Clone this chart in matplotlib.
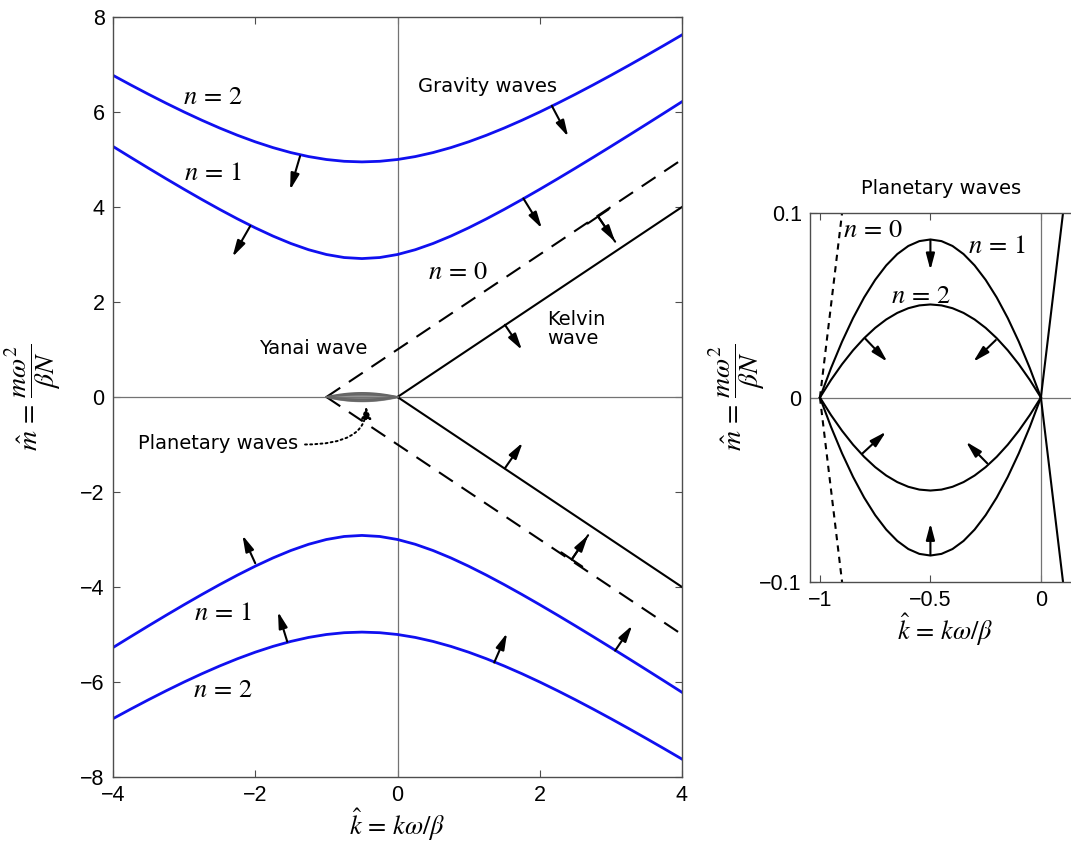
import numpy as np
import matplotlib
matplotlib.use("Agg")
import matplotlib.pyplot as plt

plt.rcParams['mathtext.fontset'] = 'stix'
plt.rcParams['font.family'] = ['DejaVu Sans']

# gravity wave branches (upper half; lower half is the mirror image)
k_grav = [-4, -3.75, -3.5, -3.25, -3, -2.75, -2.5, -2.25, -2, -1.75, -1.5, -1.25, -1, -0.75, -0.5,
          -0.25, 0, 0.25, 0.5, 0.75, 1, 1.25, 1.5, 1.75, 2, 2.25, 2.5, 2.75, 3, 3.25, 3.5, 3.75, 4]
m_grav_n1 = [5.2749, 5.0444, 4.8166, 4.5923, 4.3723, 4.1576, 3.9495, 3.75, 3.5616, 3.3875, 3.2321,
             3.1008, 3.0, 2.9361, 2.9142, 2.9361, 3.0, 3.1008, 3.2321, 3.3875, 3.5616, 3.75, 3.9495,
             4.1576, 4.3723, 4.5923, 4.8166, 5.0444, 5.2749, 5.5078, 5.7426, 5.9791, 6.2170]
m_grav_n2 = [6.7720, 6.5697, 6.3730, 6.1828, 6.0, 5.8261, 5.6623, 5.5104, 5.3723, 5.25, 5.1458,
             5.0617, 5.0, 4.9622, 4.9495, 4.9622, 5.0, 5.0617, 5.1458, 5.25, 5.3723, 5.5104, 5.6623,
             5.8261, 6.0, 6.1828, 6.3730, 6.5697, 6.7720, 6.9791, 7.1904, 7.4053, 7.6235]

# Yanai (n=0) and Kelvin lines
k_yanai = [-1, 4]
m_yanai = [0, 5]
k_kelvin = [0, 4]
m_kelvin = [0, 4]

# planetary (Rossby) branches
k_plan = [-1, -0.95, -0.9, -0.85, -0.8, -0.75, -0.7, -0.65, -0.6, -0.55, -0.5,
          -0.45, -0.4, -0.35, -0.3, -0.25, -0.2, -0.15, -0.1, -0.05, 0]
m_plan_n1 = [0, 0.01592, 0.03031, 0.04312, 0.05432, 0.06386, 0.07171, 0.07786, 0.08226, 0.08490, 0.08579,
             0.08490, 0.08226, 0.07786, 0.07171, 0.06386, 0.05432, 0.04312, 0.03031, 0.01592, 0]
m_plan_n2 = [0, 0.00952, 0.01806, 0.02563, 0.03221, 0.03779, 0.04236, 0.04592, 0.04847, 0.05000, 0.05051,
             0.05000, 0.04847, 0.04592, 0.04236, 0.03779, 0.03221, 0.02563, 0.01806, 0.00952, 0]

# group velocity arrows: (tail, head, has_bar)
arrows_left = [
    ((-1.37, 5.07), (-1.51, 4.36), False),
    ((-2.07, 3.60), (-2.32, 2.95), False),
    ((2.17, 6.13), (2.40, 5.48), False),
    ((1.77, 4.18), (2.03, 3.55), False),
    ((2.82, 3.80), (3.06, 3.27), True),
    ((1.51, 1.52), (1.75, 0.99), False),
    ((1.51, -1.50), (1.76, -0.96), False),
    ((2.45, -3.42), (2.68, -2.91), True),
    ((3.06, -5.34), (3.30, -4.81), False),
    ((1.36, -5.59), (1.54, -4.97), False),
    ((-2.00, -3.50), (-2.18, -2.91), False),
    ((-1.55, -5.15), (-1.68, -4.52), False),
]
arrows_right = [
    ((-0.5, 0.0855), (-0.5, 0.0692)),
    ((-0.796, 0.0321), (-0.695, 0.0194)),
    ((-0.204, 0.0312), (-0.306, 0.0194)),
    ((-0.807, -0.0303), (-0.701, -0.0186)),
    ((-0.243, -0.0357), (-0.339, -0.0240)),
    ((-0.5, -0.0855), (-0.5, -0.0683)),
]

blue = '#1010f0'
W, H = 1071, 843
fig = plt.figure(figsize=(W / 100, H / 100), dpi=100)
ax1 = fig.add_axes([113 / W, 1 - 777 / H, 569 / W, 760 / H])
ax2 = fig.add_axes([810 / W, 1 - 581.7 / H, 270 / W, 368.4 / H])


def style(ax):
    ax.tick_params(direction='in', top=True, right=True, length=5, width=0.8,
                   labelsize=15.5, color='0.3', pad=6)
    for s in ax.spines.values():
        s.set_color('0.3')
        s.set_linewidth(1.0)
    for lab in ax.get_xticklabels() + ax.get_yticklabels():
        lab.set_family('Liberation Sans')


def arrow(ax, tail, head, bar=False, ms=13):
    ax.annotate('', xy=head, xytext=tail,
                arrowprops=dict(arrowstyle='-|>,head_length=0.75,head_width=0.2',
                                lw=1.5, color='k', shrinkA=0, shrinkB=0,
                                mutation_scale=ms))
    if bar:
        ax.annotate('', xy=head, xytext=tail,
                    arrowprops=dict(arrowstyle=']-,widthA=0.7,lengthA=0',
                                    lw=1.5, color='k', shrinkA=0, shrinkB=0,
                                    mutation_scale=ms))


# ---- left panel
ax1.axhline(0, color='0.45', lw=0.9)
ax1.axvline(0, color='0.45', lw=0.9)
ax1.plot(k_grav, m_grav_n1, color=blue, lw=2)
ax1.plot(k_grav, m_grav_n2, color=blue, lw=2)
ax1.plot(k_grav, -np.array(m_grav_n1), color=blue, lw=2)
ax1.plot(k_grav, -np.array(m_grav_n2), color=blue, lw=2)
ax1.plot(k_yanai, m_yanai, color='k', lw=1.5, ls=(0, (8, 5)))
ax1.plot(k_yanai, -np.array(m_yanai), color='k', lw=1.5, ls=(0, (8, 5)))
ax1.plot(k_kelvin, m_kelvin, color='k', lw=1.5)
ax1.plot(k_kelvin, -np.array(m_kelvin), color='k', lw=1.5)
for mp in (m_plan_n1, m_plan_n2):
    ax1.plot(k_plan, mp, color='0.4', lw=1.3)
    ax1.plot(k_plan, -np.array(mp), color='0.4', lw=1.3)
ax1.fill_between(k_plan, -np.array(m_plan_n1), m_plan_n1, color='0.6')

for t, h, b in arrows_left:
    arrow(ax1, t, h, b)

ax1.set_xlim(-4, 4)
ax1.set_ylim(-8, 8)
ax1.set_xticks([-4, -2, 0, 2, 4])
ax1.set_yticks([-8, -6, -4, -2, 0, 2, 4, 6, 8])
style(ax1)

mt = dict(fontsize=19, ha='center', va='center')
ax1.text(-2.6, 6.32, '$n\\,=\\,2$', **mt)
ax1.text(-2.6, 4.72, '$n\\,=\\,1$', **mt)
ax1.text(-2.45, -4.55, '$n\\,=\\,1$', **mt)
ax1.text(-2.45, -6.17, '$n\\,=\\,2$', **mt)
ax1.text(0.85, 2.63, '$n\\,=\\,0$', **mt)
tt = dict(fontsize=14, ha='center', va='center')
ax1.text(1.27, 6.53, 'Gravity waves', **tt)
ax1.text(2.1, 1.43, 'Kelvin\nwave', ha='left', va='center', fontsize=14, linespacing=0.95)
ax1.text(-1.18, 1.03, 'Yanai wave', **tt)
ax1.text(-3.65, -0.98, 'Planetary waves', ha='left', va='center', fontsize=14)
ax1.annotate('', xy=(-0.44, -0.2), xytext=(-1.3, -1.0),
             arrowprops=dict(arrowstyle='-|>,head_length=0.6,head_width=0.25',
                             ls=':', lw=1.4, color='k', shrinkA=0, shrinkB=0,
                             mutation_scale=12,
                             connectionstyle='angle3,angleA=0,angleB=90'))

ax1.set_xlabel('$\\hat{k}\\,=\\,k\\omega/\\beta$', fontsize=19, labelpad=0)
ax1.set_ylabel('$\\hat{m}\\,=\\,\\dfrac{m\\omega^2}{\\beta N}$', fontsize=20)
ax1.yaxis.set_label_coords(-0.088, 0.5)

# ---- right panel
ax2.axhline(0, color='0.45', lw=0.9)
ax2.axvline(0, color='0.45', lw=0.9)
for mp in (m_plan_n1, m_plan_n2):
    ax2.plot(k_plan, mp, color='k', lw=1.5)
    ax2.plot(k_plan, -np.array(mp), color='k', lw=1.5)
ax2.plot(k_yanai, m_yanai, color='k', lw=1.5, ls=(0, (3, 2.5)))
ax2.plot(k_yanai, -np.array(m_yanai), color='k', lw=1.5, ls=(0, (3, 2.5)))
ax2.plot(k_kelvin, m_kelvin, color='k', lw=1.5)
ax2.plot(k_kelvin, -np.array(m_kelvin), color='k', lw=1.5)
for t, h in arrows_right:
    arrow(ax2, t, h)

ax2.set_xlim(-1.045, 0.177)
ax2.set_ylim(-0.1, 0.1)
ax2.set_xticks([-1, -0.5, 0])
ax2.set_xticklabels(['\u22121', '\u22120.5', '0'])
ax2.set_yticks([-0.1, 0, 0.1])
ax2.set_yticklabels(['\u22120.1', '0', '0.1'])
style(ax2)
ax2.spines['right'].set_visible(False)

ax2.text(-0.76, 0.091, '$n\\,=\\,0$', **mt)
ax2.text(-0.2, 0.082, '$n\\,=\\,1$', **mt)
ax2.text(-0.545, 0.055, '$n\\,=\\,2$', **mt)
ax2.set_title('Planetary waves', fontsize=14, pad=14, x=0.485)
ax2.set_xlabel('$\\hat{k}\\,=\\,k\\omega/\\beta$', fontsize=19, labelpad=0)
ax2.set_ylabel('$\\hat{m}\\,=\\,\\dfrac{m\\omega^2}{\\beta N}$', fontsize=20)
ax2.yaxis.set_label_coords(-0.16, 0.5)

fig.savefig('out.png', dpi=100)
